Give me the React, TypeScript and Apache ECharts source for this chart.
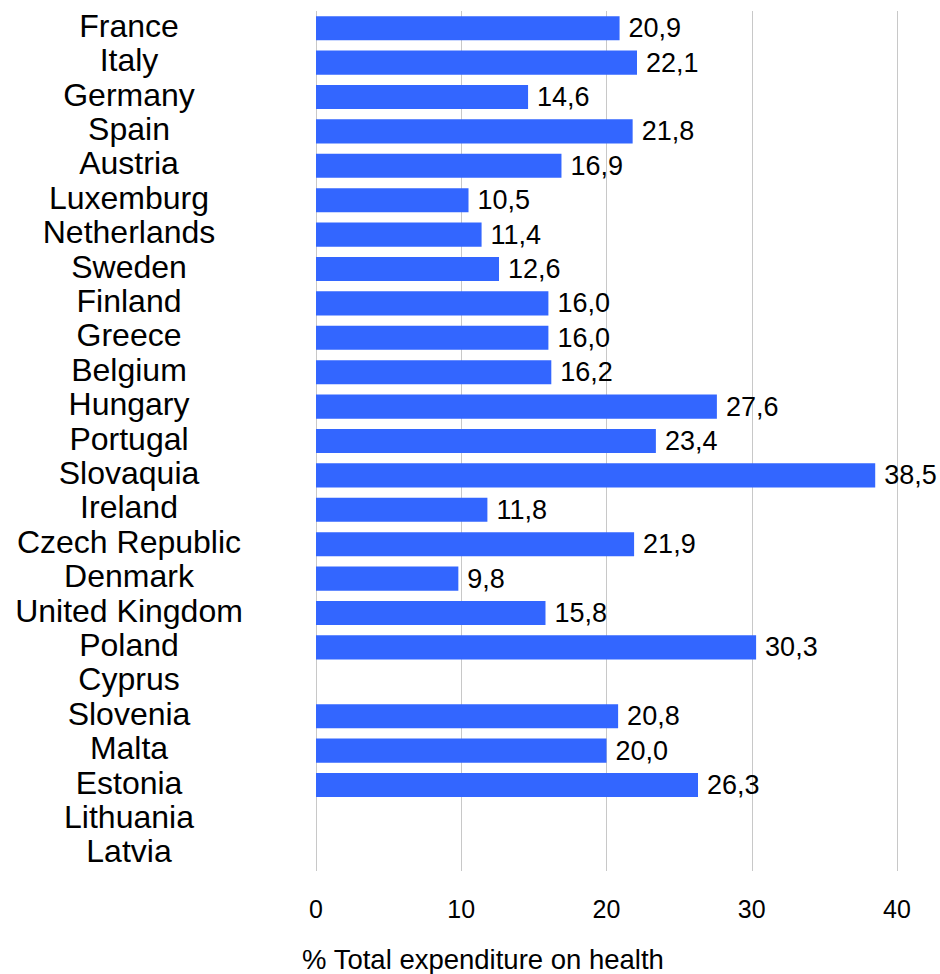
import React, { useEffect, useRef } from "react";
import * as echarts from "echarts";

// Share of total health expenditure, by country (top to bottom)
const countries: string[] = [
  "France",
  "Italy",
  "Germany",
  "Spain",
  "Austria",
  "Luxemburg",
  "Netherlands",
  "Sweden",
  "Finland",
  "Greece",
  "Belgium",
  "Hungary",
  "Portugal",
  "Slovaquia",
  "Ireland",
  "Czech Republic",
  "Denmark",
  "United Kingdom",
  "Poland",
  "Cyprus",
  "Slovenia",
  "Malta",
  "Estonia",
  "Lithuania",
  "Latvia",
];

const shares: (number | null)[] = [
  20.9, 22.1, 14.6, 21.8, 16.9, 10.5, 11.4, 12.6, 16.0, 16.0, 16.2, 27.6, 23.4,
  38.5, 11.8, 21.9, 9.8, 15.8, 30.3, null, 20.8, 20.0, 26.3, null, null,
];

const axisTicks: number[] = [0, 10, 20, 30, 40];
const axisTitle = "% Total expenditure on health";

const FONT = "'Liberation Sans', Arial, sans-serif";

export default function App() {
  const ref = useRef<HTMLDivElement>(null);

  useEffect(() => {
    if (!ref.current) return;
    const chart = echarts.init(ref.current, null, { renderer: "svg" });
    chart.setOption({
      animation: false,
      backgroundColor: "#ffffff",
      grid: { left: 316, right: 43, top: 11, bottom: 103, containLabel: false },
      xAxis: {
        type: "value",
        min: axisTicks[0],
        max: axisTicks[axisTicks.length - 1],
        interval: 10,
        axisLine: { show: false },
        axisTick: { show: false },
        axisLabel: {
          margin: 25,
          color: "#000000",
          fontFamily: FONT,
          fontSize: 25,
        },
        splitLine: { show: true, lineStyle: { color: "#c8c8c8", width: 1 } },
      },
      yAxis: {
        type: "category",
        data: countries,
        inverse: true,
        axisLine: { show: false },
        axisTick: { show: false },
        axisLabel: {
          interval: 0,
          align: "center",
          margin: 187,
          formatter: (v: string) => `{c|${v}}`,
          rich: {
            c: {
              color: "#000000",
              fontFamily: FONT,
              fontSize: 32,
              padding: [0, 0, 5, 0],
            },
          },
        },
        splitLine: { show: false },
      },
      graphic: [
        {
          type: "text",
          x: 483,
          y: 959,
          style: {
            text: axisTitle,
            fill: "#000000",
            font: `27.5px ${FONT}`,
            textAlign: "center",
            textVerticalAlign: "middle",
          },
        },
      ],
      series: [
        {
          type: "bar",
          data: shares,
          barCategoryGap: "30%",
          itemStyle: { color: "#3366ff" },
          label: {
            show: true,
            position: "right",
            distance: 9,
            color: "#000000",
            fontFamily: FONT,
            fontSize: 27,
            formatter: (p: any) =>
              p.value == null ? "" : Number(p.value).toFixed(1).replace(".", ","),
          },
        },
      ],
    });
    return () => chart.dispose();
  }, []);

  return (
    <div
      ref={ref}
      style={{ position: "fixed", left: 0, top: 0, width: 940, height: 974 }}
    />
  );
}
